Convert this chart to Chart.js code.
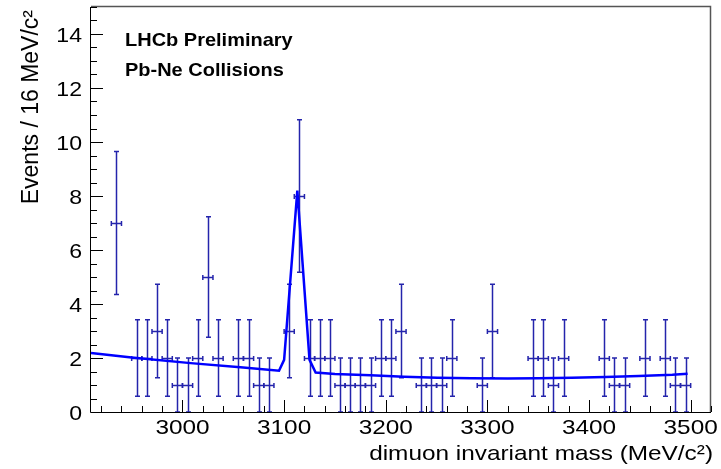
<!DOCTYPE html>
<html>
<head>
<meta charset="utf-8">
<script src="https://cdn.jsdelivr.net/npm/chart.js@4.4.1/dist/chart.umd.min.js"></script>
<style>
  body { margin: 0; background: #fff; }
  canvas { display: block; }
</style>
</head>
<body>
<canvas id="massPlot" width="721" height="469"></canvas>
<script>
// DATA
const binCentres = [2935, 2955, 2965, 2975, 2985, 2995, 3005, 3015, 3025, 3035,
    3055, 3065, 3075, 3085, 3105, 3115, 3125, 3135, 3145, 3155,
    3165, 3175, 3185, 3195, 3205, 3215, 3235, 3245, 3255, 3265,
    3295, 3305, 3345, 3355, 3365, 3375, 3415, 3425, 3435, 3455,
    3475, 3485, 3495];
const eventCounts = [7, 2, 2, 3, 2, 1, 1, 2, 5, 2,
    2, 2, 1, 1, 3, 8, 2, 2, 2, 1,
    1, 1, 1, 2, 2, 3, 1, 1, 1, 2,
    1, 3, 2, 2, 1, 2, 2, 1, 1, 2,
    2, 1, 1];
const binHalfWidth = 5;

// fit curve as it is drawn (piecewise)
const fitMass = [2910, 2950, 3008, 3057, 3095, 3100, 3113, 3125, 3131, 3150,
    3185, 3218, 3251, 3284, 3320, 3350, 3383, 3416, 3449, 3482, 3497];
const fitEvents = [2.19, 2.02, 1.81, 1.66, 1.53, 1.93, 8.2, 1.93, 1.46, 1.41,
    1.36, 1.31, 1.27, 1.25, 1.24, 1.25, 1.27, 1.30, 1.33, 1.38, 1.42];

const xTickValues = [3000, 3100, 3200, 3300, 3400, 3500];
const yTickValues = [0, 2, 4, 6, 8, 10, 12, 14];
const xTitle = 'dimuon invariant mass (MeV/c²)';
const yTitle = 'Events / 16 MeV/c²';
const plotLabels = ['LHCb Preliminary', 'Pb-Ne Collisions'];

const FONT = '"Liberation Sans", Helvetica, Arial, sans-serif';
const barColor = '#2424ac';
const fitColor = '#0000ff';

// draw text, optionally stretched sideways (the reference text is a bit wide)
const drawText = (ctx, text, x, y, opts) => {
    ctx.save();
    ctx.translate(x, y);
    if (opts.rotate) ctx.rotate(opts.rotate);
    ctx.scale(opts.sx || 1, 1);
    ctx.font = opts.font;
    ctx.fillStyle = '#000';
    ctx.textAlign = opts.align || 'left';
    ctx.textBaseline = 'alphabetic';
    ctx.fillText(text, 0, 0);
    ctx.restore();
};

// ERROR BARS (drawn under the fit curve)
const errorBars = {
    id: 'errorBars',
    beforeDatasetsDraw(chart) {
        const {ctx, chartArea, scales: {x, y}} = chart;
        ctx.save();
        ctx.beginPath();
        ctx.rect(chartArea.left, chartArea.top, chartArea.right - chartArea.left, chartArea.bottom - chartArea.top);
        ctx.clip();
        ctx.strokeStyle = barColor;
        ctx.lineWidth = 1.5;
        const cap = 2.5;
        binCentres.forEach((m, i) => {
            const n = eventCounts[i];
            const err = Math.sqrt(n);
            const px = Math.round(x.getPixelForValue(m)) + 0.5;
            const py = Math.round(y.getPixelForValue(n)) + 0.5;
            const yLo = y.getPixelForValue(n - err);
            const yHi = y.getPixelForValue(n + err);
            const xLo = x.getPixelForValue(m - binHalfWidth);
            const xHi = x.getPixelForValue(m + binHalfWidth);
            ctx.beginPath();
            ctx.moveTo(px, yLo); ctx.lineTo(px, yHi);
            ctx.moveTo(px - cap, yLo); ctx.lineTo(px + cap, yLo);
            ctx.moveTo(px - cap, yHi); ctx.lineTo(px + cap, yHi);
            ctx.moveTo(xLo, py); ctx.lineTo(xHi, py);
            ctx.moveTo(xLo, py - cap); ctx.lineTo(xLo, py + cap);
            ctx.moveTo(xHi, py - cap); ctx.lineTo(xHi, py + cap);
            ctx.stroke();
        });
        ctx.restore();
    }
};

// FRAME, INWARD TICKS AND ALL TEXT
const rootFrame = {
    id: 'rootFrame',
    afterDraw(chart) {
        const {ctx, chartArea: {left, right, top, bottom}, scales: {x, y}} = chart;
        ctx.save();
        // top + right border
        ctx.strokeStyle = '#555';
        ctx.lineWidth = 1.5;
        ctx.beginPath();
        ctx.moveTo(left, top - 0.5); ctx.lineTo(right - 0.5, top - 0.5); ctx.lineTo(right - 0.5, bottom);
        ctx.stroke();
        // axes
        ctx.strokeStyle = '#000';
        ctx.lineWidth = 1;
        ctx.beginPath();
        ctx.moveTo(left - 0.5, top); ctx.lineTo(left - 0.5, bottom + 0.5); ctx.lineTo(right, bottom + 0.5);
        ctx.stroke();

        // x ticks: minor every 20, major every 100
        ctx.beginPath();
        for (let v = 2920; v <= 3520; v += 20) {
            const px = Math.round(x.getPixelForValue(v)) + 0.5;
            const len = v % 100 === 0 ? 12 : 6;
            ctx.moveTo(px, bottom); ctx.lineTo(px, bottom - len);
        }
        // y ticks: minor every 0.5, major every 2
        for (let v = 0.5; v <= 15; v += 0.5) {
            const py = Math.round(y.getPixelForValue(v)) + 0.5;
            const len = v % 2 === 0 ? 12 : 6;
            ctx.moveTo(left, py); ctx.lineTo(left + len, py);
        }
        ctx.stroke();
        ctx.restore();

        const tickFont = '21px ' + FONT;
        xTickValues.forEach(v => {
            drawText(ctx, String(v), x.getPixelForValue(v), 434, {font: tickFont, align: 'center', sx: 1.16});
        });
        yTickValues.forEach(v => {
            drawText(ctx, String(v), 82, y.getPixelForValue(v) + 7.5, {font: tickFont, align: 'right', sx: 1.1});
        });
        drawText(ctx, xTitle, 713, 460, {font: tickFont, align: 'right', sx: 1.16});
        drawText(ctx, yTitle, 38, 10, {font: '23px ' + FONT, align: 'right', rotate: -Math.PI / 2});

        const labelFont = 'bold 18.5px ' + FONT;
        drawText(ctx, plotLabels[0], 125, 46, {font: labelFont, sx: 1.08});
        drawText(ctx, plotLabels[1], 125, 76, {font: labelFont, sx: 1.08});
    }
};

const ctx = document.getElementById('massPlot');
const massChart = new Chart(ctx, {
    type: 'scatter',
    data: {
        datasets: [{
            label: 'fit',
            data: fitMass.map((m, i) => ({x: m, y: fitEvents[i]})),
            showLine: true,
            borderColor: fitColor,
            borderWidth: 2.5,
            pointRadius: 0,
            tension: 0
        }, {
            label: 'data',
            data: binCentres.map((m, i) => ({x: m, y: eventCounts[i]})),
            pointRadius: 0,
            showLine: false
        }]
    },
    options: {
        responsive: false,
        animation: false,
        layout: { padding: { top: 7, right: 10, left: 0, bottom: 0 } },
        plugins: { legend: { display: false }, tooltip: { enabled: false } },
        scales: {
            x: {
                type: 'linear',
                min: 2910,
                max: 3520,
                grid: { display: false, drawTicks: false },
                border: { display: false },
                ticks: { display: false },
                afterFit: scale => { scale.height = 57; }
            },
            y: {
                min: 0,
                max: 15,
                grid: { display: false, drawTicks: false },
                border: { display: false },
                ticks: { display: false },
                afterFit: scale => { scale.width = 91; }
            }
        }
    },
    plugins: [errorBars, rootFrame]
});
</script>
</body>
</html>
